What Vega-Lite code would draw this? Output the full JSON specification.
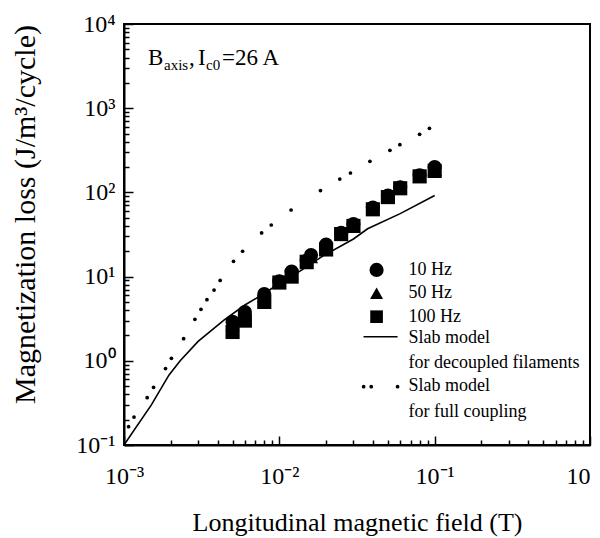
{
  "$schema": "https://vega.github.io/schema/vega-lite/v6.json",
  "width": 466,
  "height": 421,
  "autosize": {"type": "none"},
  "padding": {"left": 124, "top": 24, "right": 10, "bottom": 93},
  "background": "white",
  "config": {
    "font": "Liberation Serif",
    "view": {"stroke": "black", "strokeWidth": 2},
    "axis": {
      "domainColor": "black", "domainWidth": 2, "tickColor": "black", "tickWidth": 1.5,
      "labelColor": "black", "titleColor": "black", "labelFont": "Liberation Serif", "titleFont": "Liberation Serif",
      "titleFontWeight": "normal", "grid": false, "labelOverlap": false, "labelFlush": false, "labelBound": false
    },
    "text": {"font": "Liberation Serif", "color": "black"}
  },
  "datasets": {
    "meas": [
      {"f": "10 Hz", "B": 0.005, "loss": 2.9}, {"f": "10 Hz", "B": 0.006, "loss": 3.8}, {"f": "10 Hz", "B": 0.008, "loss": 6.2},
      {"f": "10 Hz", "B": 0.01, "loss": 8.8}, {"f": "10 Hz", "B": 0.012, "loss": 11.5}, {"f": "10 Hz", "B": 0.015, "loss": 15.5},
      {"f": "10 Hz", "B": 0.016, "loss": 18}, {"f": "10 Hz", "B": 0.02, "loss": 24}, {"f": "10 Hz", "B": 0.025, "loss": 33},
      {"f": "10 Hz", "B": 0.03, "loss": 42}, {"f": "10 Hz", "B": 0.04, "loss": 66}, {"f": "10 Hz", "B": 0.05, "loss": 92},
      {"f": "10 Hz", "B": 0.06, "loss": 115}, {"f": "10 Hz", "B": 0.08, "loss": 160}, {"f": "10 Hz", "B": 0.1, "loss": 200},
      {"f": "50 Hz", "B": 0.005, "loss": 2.7}, {"f": "50 Hz", "B": 0.006, "loss": 3.5}, {"f": "50 Hz", "B": 0.008, "loss": 5.8},
      {"f": "50 Hz", "B": 0.01, "loss": 9.0}, {"f": "50 Hz", "B": 0.012, "loss": 11}, {"f": "50 Hz", "B": 0.015, "loss": 14.5},
      {"f": "50 Hz", "B": 0.016, "loss": 17}, {"f": "50 Hz", "B": 0.02, "loss": 22}, {"f": "50 Hz", "B": 0.03, "loss": 40},
      {"f": "50 Hz", "B": 0.05, "loss": 88}, {"f": "50 Hz", "B": 0.06, "loss": 118}, {"f": "50 Hz", "B": 0.08, "loss": 155},
      {"f": "50 Hz", "B": 0.1, "loss": 185},
      {"f": "100 Hz", "B": 0.005, "loss": 2.2}, {"f": "100 Hz", "B": 0.006, "loss": 3.0}, {"f": "100 Hz", "B": 0.008, "loss": 5.0},
      {"f": "100 Hz", "B": 0.01, "loss": 8.5}, {"f": "100 Hz", "B": 0.012, "loss": 10}, {"f": "100 Hz", "B": 0.015, "loss": 15},
      {"f": "100 Hz", "B": 0.02, "loss": 21}, {"f": "100 Hz", "B": 0.025, "loss": 32}, {"f": "100 Hz", "B": 0.03, "loss": 40},
      {"f": "100 Hz", "B": 0.04, "loss": 63}, {"f": "100 Hz", "B": 0.05, "loss": 88}, {"f": "100 Hz", "B": 0.06, "loss": 112},
      {"f": "100 Hz", "B": 0.08, "loss": 155}, {"f": "100 Hz", "B": 0.1, "loss": 180}
    ],
    "decoupled": [
      {"B": 0.001, "loss": 0.1}, {"B": 0.0015, "loss": 0.3}, {"B": 0.00195, "loss": 0.68}, {"B": 0.0023, "loss": 1.0},
      {"B": 0.003, "loss": 1.7}, {"B": 0.0044, "loss": 3.05}, {"B": 0.006, "loss": 4.6}, {"B": 0.008, "loss": 6.3},
      {"B": 0.01, "loss": 8.3}, {"B": 0.014, "loss": 12}, {"B": 0.019, "loss": 17.5}, {"B": 0.03, "loss": 28},
      {"B": 0.037, "loss": 37}, {"B": 0.06, "loss": 56}, {"B": 0.1, "loss": 92}
    ],
    "coupling": [
      {"B": 0.00107, "loss": 0.165}, {"B": 0.00116, "loss": 0.215}, {"B": 0.00141, "loss": 0.365}, {"B": 0.00155, "loss": 0.485},
      {"B": 0.00185, "loss": 0.81}, {"B": 0.00202, "loss": 1.07}, {"B": 0.00242, "loss": 1.83}, {"B": 0.00286, "loss": 3.11},
      {"B": 0.00313, "loss": 4.09}, {"B": 0.00342, "loss": 5.32}, {"B": 0.0038, "loss": 6.93}, {"B": 0.00416, "loss": 9.0},
      {"B": 0.00507, "loss": 15.2}, {"B": 0.0058, "loss": 20.0}, {"B": 0.00769, "loss": 33.0}, {"B": 0.00887, "loss": 41.0},
      {"B": 0.0119, "loss": 61.8}, {"B": 0.0184, "loss": 105}, {"B": 0.0245, "loss": 144}, {"B": 0.0287, "loss": 170},
      {"B": 0.0383, "loss": 234}, {"B": 0.0515, "loss": 316}, {"B": 0.0597, "loss": 369}, {"B": 0.08, "loss": 490},
      {"B": 0.0925, "loss": 577}
    ]
  },
  "layer": [
    {
      "data": {"name": "decoupled"},
      "mark": {"type": "line", "color": "black", "strokeWidth": 1.6, "clip": true},
      "encoding": {
        "x": {
          "field": "B", "type": "quantitative",
          "scale": {"type": "log", "domain": [0.001, 1], "nice": false},
          "axis": {
            "title": "Longitudinal magnetic field (T)",
            "values": [0.001, 0.002, 0.003, 0.004, 0.005, 0.006, 0.007, 0.008, 0.009, 0.01, 0.02, 0.03, 0.04, 0.05, 0.06, 0.07, 0.08, 0.09, 0.1, 0.2, 0.3, 0.4, 0.5, 0.6, 0.7, 0.8, 0.9, 1],
            "labelExpr": "datum.value == 0.001 ? '10⁻³' : datum.value == 0.01 ? '10⁻²' : datum.value == 0.1 ? '10⁻¹' : datum.value == 1 ? '10' : ''",
            "labelAlign": {"condition": {"test": "datum.value == 1", "value": "right"}, "value": "center"},
            "tickSize": {"condition": {"test": "indexof([0.001, 0.01, 0.1, 1], datum.value) >= 0", "value": -9}, "value": -5},
            "labelPadding": 28,
            "labelFontSize": 24,
            "titleFontSize": 26,
            "titleY": 85,
            "titleBaseline": "alphabetic"
          }
        },
        "y": {
          "field": "loss", "type": "quantitative",
          "scale": {"type": "log", "domain": [0.1, 10000], "nice": false},
          "axis": {
            "title": "Magnetization loss (J/m³/cycle)",
            "values": [0.1, 0.2, 0.3, 0.4, 0.5, 0.6, 0.7, 0.8, 0.9, 1, 2, 3, 4, 5, 6, 7, 8, 9, 10, 20, 30, 40, 50, 60, 70, 80, 90, 100, 200, 300, 400, 500, 600, 700, 800, 900, 1000, 2000, 3000, 4000, 5000, 6000, 7000, 8000, 9000, 10000],
            "labelExpr": "datum.value == 10000 ? '10⁴' : datum.value == 1000 ? '10³' : datum.value == 100 ? '10²' : datum.value == 10 ? '10¹' : datum.value == 1 ? '10⁰' : datum.value == 0.1 ? '10⁻¹' : ''",
            "tickSize": {"condition": {"test": "indexof([0.1, 1, 10, 100, 1000, 10000], datum.value) >= 0", "value": -9}, "value": -5},
            "labelPadding": 18,
            "labelFontSize": 24,
            "titleFontSize": 30,
            "titleX": -99,
            "titleY": 190,
            "titleBaseline": "middle",
            "titleAlign": "center",
            "titleAngle": -90
          }
        }
      }
    },
    {
      "data": {"name": "coupling"},
      "mark": {"type": "point", "filled": true, "color": "black", "size": 14, "opacity": 1},
      "encoding": {
        "x": {"field": "B", "type": "quantitative", "scale": {"type": "log", "domain": [0.001, 1], "nice": false}},
        "y": {"field": "loss", "type": "quantitative", "scale": {"type": "log", "domain": [0.1, 10000], "nice": false}}
      }
    },
    {
      "data": {"name": "meas"},
      "mark": {"type": "point", "filled": true, "color": "black", "size": 200, "opacity": 1},
      "encoding": {
        "x": {"field": "B", "type": "quantitative", "scale": {"type": "log", "domain": [0.001, 1], "nice": false}},
        "y": {"field": "loss", "type": "quantitative", "scale": {"type": "log", "domain": [0.1, 10000], "nice": false}},
        "shape": {"field": "f", "type": "nominal", "scale": {"domain": ["10 Hz", "50 Hz", "100 Hz"], "range": ["circle", "triangle-up", "square"]}, "legend": null}
      }
    },
    {
      "data": {"values": [{}]},
      "layer": [
        {"mark": {"type": "text", "text": "B", "fontSize": 23, "align": "left", "baseline": "alphabetic", "dx": 0},
         "encoding": {"x": {"datum": 0.001428, "type": "quantitative", "scale": {"type": "log", "domain": [0.001, 1], "nice": false}}, "y": {"datum": 3258, "type": "quantitative", "scale": {"type": "log", "domain": [0.1, 10000], "nice": false}}}},
        {"mark": {"type": "text", "text": "axis", "fontSize": 15, "align": "left", "baseline": "alphabetic", "dx": 16, "dy": 5},
         "encoding": {"x": {"datum": 0.001428, "type": "quantitative", "scale": {"type": "log", "domain": [0.001, 1], "nice": false}}, "y": {"datum": 3258, "type": "quantitative", "scale": {"type": "log", "domain": [0.1, 10000], "nice": false}}}},
        {"mark": {"type": "text", "text": ",", "fontSize": 23, "align": "left", "baseline": "alphabetic", "dx": 41},
         "encoding": {"x": {"datum": 0.001428, "type": "quantitative", "scale": {"type": "log", "domain": [0.001, 1], "nice": false}}, "y": {"datum": 3258, "type": "quantitative", "scale": {"type": "log", "domain": [0.1, 10000], "nice": false}}}},
        {"mark": {"type": "text", "text": "I", "fontSize": 23, "align": "left", "baseline": "alphabetic", "dx": 50},
         "encoding": {"x": {"datum": 0.001428, "type": "quantitative", "scale": {"type": "log", "domain": [0.001, 1], "nice": false}}, "y": {"datum": 3258, "type": "quantitative", "scale": {"type": "log", "domain": [0.1, 10000], "nice": false}}}},
        {"mark": {"type": "text", "text": "c0", "fontSize": 15, "align": "left", "baseline": "alphabetic", "dx": 58, "dy": 5},
         "encoding": {"x": {"datum": 0.001428, "type": "quantitative", "scale": {"type": "log", "domain": [0.001, 1], "nice": false}}, "y": {"datum": 3258, "type": "quantitative", "scale": {"type": "log", "domain": [0.1, 10000], "nice": false}}}},
        {"mark": {"type": "text", "text": "=26 A", "fontSize": 23, "align": "left", "baseline": "alphabetic", "dx": 74},
         "encoding": {"x": {"datum": 0.001428, "type": "quantitative", "scale": {"type": "log", "domain": [0.001, 1], "nice": false}}, "y": {"datum": 3258, "type": "quantitative", "scale": {"type": "log", "domain": [0.1, 10000], "nice": false}}}},

        {"mark": {"type": "point", "shape": "circle", "filled": true, "color": "black", "size": 200, "opacity": 1},
         "encoding": {"x": {"datum": 0.04227, "type": "quantitative", "scale": {"type": "log", "domain": [0.001, 1], "nice": false}}, "y": {"datum": 12.0, "type": "quantitative", "scale": {"type": "log", "domain": [0.1, 10000], "nice": false}}}},
        {"mark": {"type": "point", "shape": "triangle-up", "filled": true, "color": "black", "size": 170, "opacity": 1},
         "encoding": {"x": {"datum": 0.04227, "type": "quantitative", "scale": {"type": "log", "domain": [0.001, 1], "nice": false}}, "y": {"datum": 6.34, "type": "quantitative", "scale": {"type": "log", "domain": [0.1, 10000], "nice": false}}}},
        {"mark": {"type": "point", "shape": "square", "filled": true, "color": "black", "size": 160, "opacity": 1},
         "encoding": {"x": {"datum": 0.04227, "type": "quantitative", "scale": {"type": "log", "domain": [0.001, 1], "nice": false}}, "y": {"datum": 3.34, "type": "quantitative", "scale": {"type": "log", "domain": [0.1, 10000], "nice": false}}}},
        {"mark": {"type": "rule", "color": "black", "strokeWidth": 1.6},
         "encoding": {"x": {"datum": 0.03483, "type": "quantitative", "scale": {"type": "log", "domain": [0.001, 1], "nice": false}}, "x2": {"datum": 0.05771}, "y": {"datum": 1.93, "type": "quantitative", "scale": {"type": "log", "domain": [0.1, 10000], "nice": false}}}},
        {"mark": {"type": "point", "shape": "circle", "filled": true, "color": "black", "size": 14, "opacity": 1},
         "encoding": {"x": {"datum": 0.0349, "type": "quantitative", "scale": {"type": "log", "domain": [0.001, 1], "nice": false}}, "y": {"datum": 0.492, "type": "quantitative", "scale": {"type": "log", "domain": [0.1, 10000], "nice": false}}}},
        {"mark": {"type": "point", "shape": "circle", "filled": true, "color": "black", "size": 14, "opacity": 1},
         "encoding": {"x": {"datum": 0.03905, "type": "quantitative", "scale": {"type": "log", "domain": [0.001, 1], "nice": false}}, "y": {"datum": 0.492, "type": "quantitative", "scale": {"type": "log", "domain": [0.1, 10000], "nice": false}}}},
        {"mark": {"type": "point", "shape": "circle", "filled": true, "color": "black", "size": 14, "opacity": 1},
         "encoding": {"x": {"datum": 0.0577, "type": "quantitative", "scale": {"type": "log", "domain": [0.001, 1], "nice": false}}, "y": {"datum": 0.492, "type": "quantitative", "scale": {"type": "log", "domain": [0.1, 10000], "nice": false}}}},

        {"mark": {"type": "text", "text": "10 Hz", "fontSize": 18, "align": "left", "baseline": "middle"},
         "encoding": {"x": {"datum": 0.06796, "type": "quantitative", "scale": {"type": "log", "domain": [0.001, 1], "nice": false}}, "y": {"datum": 12.0, "type": "quantitative", "scale": {"type": "log", "domain": [0.1, 10000], "nice": false}}}},
        {"mark": {"type": "text", "text": "50 Hz", "fontSize": 18, "align": "left", "baseline": "middle"},
         "encoding": {"x": {"datum": 0.06796, "type": "quantitative", "scale": {"type": "log", "domain": [0.001, 1], "nice": false}}, "y": {"datum": 6.34, "type": "quantitative", "scale": {"type": "log", "domain": [0.1, 10000], "nice": false}}}},
        {"mark": {"type": "text", "text": "100 Hz", "fontSize": 18, "align": "left", "baseline": "middle"},
         "encoding": {"x": {"datum": 0.06796, "type": "quantitative", "scale": {"type": "log", "domain": [0.001, 1], "nice": false}}, "y": {"datum": 3.34, "type": "quantitative", "scale": {"type": "log", "domain": [0.1, 10000], "nice": false}}}},
        {"mark": {"type": "text", "text": "Slab model", "fontSize": 18, "align": "left", "baseline": "middle"},
         "encoding": {"x": {"datum": 0.06796, "type": "quantitative", "scale": {"type": "log", "domain": [0.001, 1], "nice": false}}, "y": {"datum": 1.85, "type": "quantitative", "scale": {"type": "log", "domain": [0.1, 10000], "nice": false}}}},
        {"mark": {"type": "text", "text": "for decoupled filaments", "fontSize": 18, "align": "left", "baseline": "middle"},
         "encoding": {"x": {"datum": 0.06796, "type": "quantitative", "scale": {"type": "log", "domain": [0.001, 1], "nice": false}}, "y": {"datum": 0.949, "type": "quantitative", "scale": {"type": "log", "domain": [0.1, 10000], "nice": false}}}},
        {"mark": {"type": "text", "text": "Slab model", "fontSize": 18, "align": "left", "baseline": "middle"},
         "encoding": {"x": {"datum": 0.06796, "type": "quantitative", "scale": {"type": "log", "domain": [0.001, 1], "nice": false}}, "y": {"datum": 0.506, "type": "quantitative", "scale": {"type": "log", "domain": [0.1, 10000], "nice": false}}}},
        {"mark": {"type": "text", "text": "for full coupling", "fontSize": 18, "align": "left", "baseline": "middle"},
         "encoding": {"x": {"datum": 0.06796, "type": "quantitative", "scale": {"type": "log", "domain": [0.001, 1], "nice": false}}, "y": {"datum": 0.2466, "type": "quantitative", "scale": {"type": "log", "domain": [0.1, 10000], "nice": false}}}}
      ]
    }
  ]
}
